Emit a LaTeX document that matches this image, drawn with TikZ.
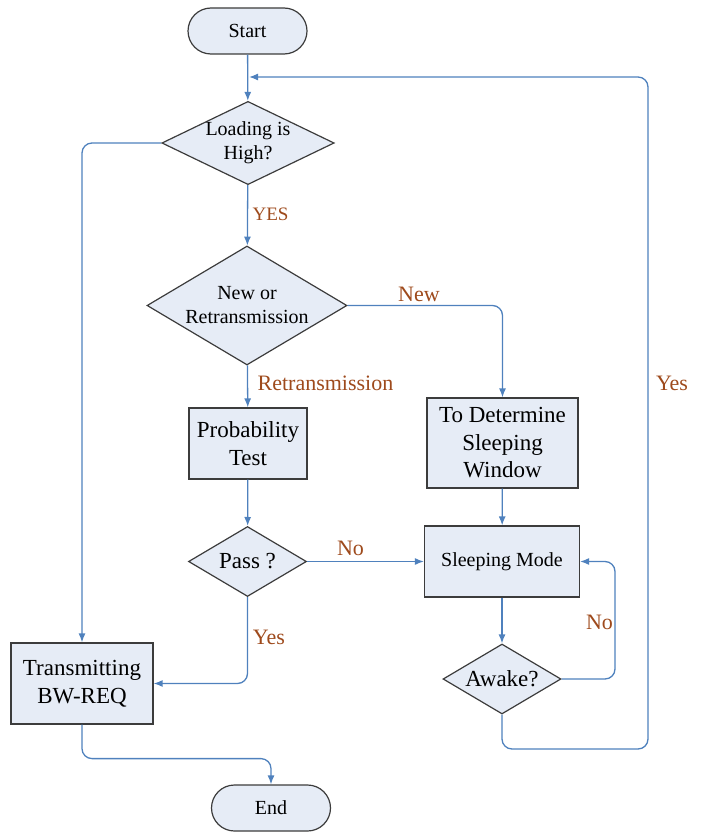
\documentclass[tikz,border=0pt]{standalone}
\usepackage{fontspec}
\setmainfont{Liberation Serif}
\usetikzlibrary{shapes.geometric,arrows.meta}
\definecolor{flowfill}{RGB}{230,236,246}
\definecolor{flowline}{RGB}{79,129,189}
\definecolor{flowtext}{RGB}{158,74,28}
\definecolor{flowedge}{RGB}{60,60,60}

\begin{document}
\begin{tikzpicture}[x=1pt, y=-1pt, >={Latex[length=9pt,width=7pt]}]
    \tikzset{small/.style={font=\fontsize{20}{24}\selectfont},
             big/.style={font=\fontsize{23}{27.5}\selectfont},
             box/.style={draw=flowedge, fill=flowfill, line width=1.2pt,
                         inner sep=0pt, align=center},
             terminal/.style={box, small, rounded corners=23pt,
                         minimum width=119pt, minimum height=46pt},
             decision/.style={box, diamond},
             answer/.style={text=flowtext, inner sep=1pt, font=\fontsize{22}{26}\selectfont},
             link/.style={draw=flowline, line width=1.3pt, rounded corners=10pt, ->}}
    \useasboundingbox (0,0) rectangle (705,832);
    % shapes
    \node[terminal] (start) at (247.5,31) {Start};
    \node[decision, small, minimum width=170pt, minimum height=82pt,
          shape aspect=2.07] (load) at (248,143) {Loading is\\High?};
    \node[decision, small, minimum width=200pt, minimum height=119pt,
          shape aspect=1.68] (newq) at (247,305.5) {New or\\Retransmission};
    \node[box, big, minimum width=118pt, minimum height=71pt] (prob) at (248,443.5) {Probability\\Test};
    \node[box, big, minimum width=151pt, minimum height=90pt] (determ) at (502.5,443) {To Determine\\Sleeping\\Window};
    \node[decision, big, minimum width=118pt, minimum height=70pt,
          shape aspect=1.69] (pass) at (247.5,561.5) {Pass ?};
    \node[box, small, minimum width=155pt, minimum height=71pt] (sleep) at (502,561.5) {Sleeping Mode};
    \node[decision, big, minimum width=118pt, minimum height=70pt,
          shape aspect=1.69] (awake) at (502,679) {Awake?};
    \node[box, big, minimum width=142pt, minimum height=81pt] (trans) at (82,683.5) {Transmitting\\BW-REQ};
    \node[terminal] (end) at (271,808) {End};
    % joints
    \coordinate (merge) at (249,77);
    \coordinate (loopturn) at (648,749);
    \coordinate (noturn) at (615,561.5);
    % connectors
    \draw[link] (start) -- (load);
    \draw[link] (load.west) -| (trans.north);
    \draw[link] (load) -- (newq);
    \draw[link] (newq.east) -| (determ.north);
    \draw[link] (newq) -- (prob);
    \draw[link] (prob) -- (pass);
    \draw[link] (determ) -- (sleep);
    \draw[link] (pass.east) -- (sleep.west);
    \draw[link] (pass.south) |- (trans.east);
    \draw[link] (sleep) -- (awake);
    \draw[link] (awake.east) -| (noturn) -- (sleep.east);
    \draw[link] (awake.south) |- (loopturn) |- (merge);
    \draw[link] (trans.south) -- ++(0,34) -| (end.north);
    % answers
    \node[answer, font=\fontsize{19}{23}\selectfont] (yesload) at (270.5,214) {YES};
    \node[answer] (newans) at (419,294) {New};
    \node[answer] (retrans) at (325.5,383) {Retransmission};
    \node[answer] (nopass) at (350.5,548) {No};
    \node[answer] (yespass) at (269,637) {Yes};
    \node[answer] (noawake) at (599.5,622) {No};
    \node[answer] (yesawake) at (672,383) {Yes};
\end{tikzpicture}
\end{document}
